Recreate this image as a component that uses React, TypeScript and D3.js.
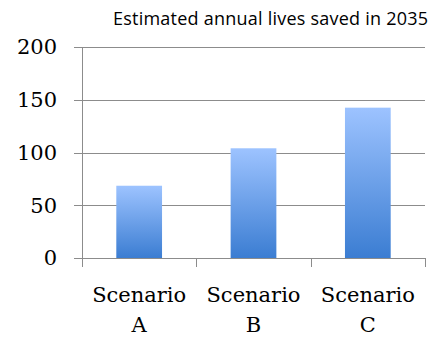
import React, { useEffect, useRef } from 'react';
import * as d3 from 'd3';

const categories = ['Scenario A', 'Scenario B', 'Scenario C'];
const livesSaved = [68.5, 104, 142.5];
const yTicks = [0, 50, 100, 150, 200];
const title = 'Estimated annual lives saved in 2035';

const App = () => {
  const svgRef = useRef<SVGSVGElement>(null);

  useEffect(() => {
    const width = 433;
    const height = 337;
    const left = 82;
    const right = 425;
    const top = 47;
    const bottom = 258;

    const svg = d3.select(svgRef.current);
    svg.selectAll('*').remove();
    svg.attr('width', width).attr('height', height);

    const defs = svg.append('defs');
    const grad = defs.append('linearGradient')
      .attr('id', 'barGrad')
      .attr('x1', 0).attr('y1', 0).attr('x2', 0).attr('y2', 1);
    grad.append('stop').attr('offset', '0%').attr('stop-color', '#9dc3ff');
    grad.append('stop').attr('offset', '100%').attr('stop-color', '#3b7dd2');

    const x = d3.scaleBand().domain(categories).range([left, right]).paddingInner(0.6).paddingOuter(0.3);
    const xOuter = d3.scaleBand().domain(categories).range([left, right]);
    const y = d3.scaleLinear().domain([0, 200]).range([bottom, top]);

    // gridlines
    svg.append('g')
      .selectAll('line')
      .data(yTicks)
      .enter()
      .append('line')
      .attr('x1', left - 8)
      .attr('x2', right)
      .attr('y1', d => Math.round(y(d)) + 0.5)
      .attr('y2', d => Math.round(y(d)) + 0.5)
      .attr('stroke', '#8c8c8c')
      .attr('stroke-width', 1);

    // y labels
    svg.append('g')
      .selectAll('text')
      .data(yTicks)
      .enter()
      .append('text')
      .attr('x', 57)
      .attr('y', d => y(d))
      .attr('dy', '0.35em')
      .attr('text-anchor', 'end')
      .attr('font-family', 'DejaVu Serif')
      .attr('font-size', 21)
      .attr('fill', '#000')
      .text(d => d);

    // y axis line
    svg.append('line')
      .attr('x1', left + 0.5).attr('x2', left + 0.5)
      .attr('y1', top).attr('y2', bottom)
      .attr('stroke', '#8c8c8c');

    // x ticks
    const xTickPos = [left, ...categories.map(c => (xOuter(c) as number) + xOuter.bandwidth())];
    svg.append('g')
      .selectAll('line')
      .data(xTickPos)
      .enter()
      .append('line')
      .attr('x1', d => Math.round(d) + 0.5)
      .attr('x2', d => Math.round(d) + 0.5)
      .attr('y1', bottom)
      .attr('y2', bottom + 9)
      .attr('stroke', '#8c8c8c');

    // bars
    svg.append('g')
      .selectAll('rect')
      .data(livesSaved)
      .enter()
      .append('rect')
      .attr('x', (d, i) => x(categories[i]) as number)
      .attr('y', d => y(d))
      .attr('width', x.bandwidth())
      .attr('height', d => bottom - y(d))
      .attr('fill', 'url(#barGrad)');

    // x labels
    const labels = svg.append('g')
      .selectAll('text')
      .data(categories)
      .enter()
      .append('text')
      .attr('text-anchor', 'middle')
      .attr('font-family', 'DejaVu Serif')
      .attr('font-size', 21)
      .attr('fill', '#000');
    labels.append('tspan')
      .attr('x', d => (xOuter(d) as number) + xOuter.bandwidth() / 2)
      .attr('y', 302)
      .text(d => d.split(' ')[0]);
    labels.append('tspan')
      .attr('x', d => (xOuter(d) as number) + xOuter.bandwidth() / 2)
      .attr('y', 332)
      .text(d => d.split(' ')[1]);

    svg.append('text')
      .attr('x', 113)
      .attr('y', 25)
      .attr('font-family', 'Open Sans')
      .attr('font-size', 18)
      .attr('textLength', 315)
      .attr('lengthAdjust', 'spacing')
      .attr('fill', '#000')
      .text(title);
  }, []);

  return (
    <svg ref={svgRef} style={{ position: 'absolute', left: 0, top: 0 }}></svg>
  );
};

export default App;
